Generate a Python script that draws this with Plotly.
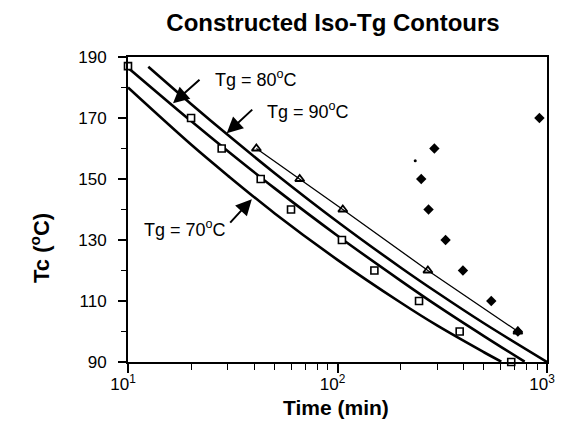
import math
import plotly.graph_objects as go

# ---- data ----
time_sq = [10, 20, 28, 43, 60, 105, 150, 245, 383, 675]
tc_sq = [187, 170, 160, 150, 140, 130, 120, 110, 100, 90]

time_tri = [41, 66, 106, 270, 726]
tc_tri = [160, 150, 140, 120, 100]

time_dia = [920, 290, 251, 272, 328, 397, 542, 726]
tc_dia = [170, 160, 150, 140, 130, 120, 110, 100]

time_dot = [235]
tc_dot = [156]

t70 = [10, 20, 30, 50, 100, 200, 300, 500, 605]
T70 = [180, 161.3, 151.1, 138.8, 123.5, 109.5, 101.9, 93.2, 90.1]

t80 = [10, 20, 30, 50, 100, 200, 300, 500, 782]
T80 = [186.5, 169.0, 159.1, 147.0, 131.4, 116.7, 108.4, 98.5, 90.1]

t90 = [12.5, 20, 30, 50, 100, 200, 300, 500, 1000]
T90 = [186.8, 174.6, 164.4, 152.0, 136.0, 121.0, 112.7, 102.7, 90.0]

x_tickvals = [10, 100, 1000]
x_ticktext = ["10<sup>1</sup>", "10<sup>2</sup>", "10<sup>3</sup>"]
x_minor = [20, 30, 40, 50, 60, 70, 80, 90, 200, 300, 400, 500, 600, 700, 800, 900]
y_tickvals = [90, 110, 130, 150, 170, 190]
y_minor = [100, 120, 140, 160, 180]

FONT = "Liberation Sans, Arial, Helvetica, sans-serif"
BLACK = "#000000"

# the page body adds an 8px margin; keep the figure small enough to avoid scrollbars
W, H = 547, 412

fig = go.Figure()

for tx, ty in [(t70, T70), (t80, T80), (t90, T90)]:
    fig.add_trace(go.Scatter(x=tx, y=ty, mode="lines", line=dict(color=BLACK, width=2.6, shape="spline"),
                             showlegend=False, hoverinfo="skip"))

fig.add_trace(go.Scatter(x=time_dia, y=tc_dia, mode="markers",
                         marker=dict(symbol="diamond", size=8, color=BLACK), showlegend=False, cliponaxis=False))
fig.add_trace(go.Scatter(x=time_tri, y=tc_tri, mode="lines+markers",
                         line=dict(color=BLACK, width=1.3),
                         marker=dict(symbol="triangle-up-open", size=8, color=BLACK, line=dict(width=1.8)),
                         showlegend=False, cliponaxis=False))
fig.add_trace(go.Scatter(x=time_sq, y=tc_sq, mode="markers",
                         marker=dict(symbol="square", size=7, color="white", line=dict(color=BLACK, width=1.6)),
                         showlegend=False, cliponaxis=False))
fig.add_trace(go.Scatter(x=time_dot, y=tc_dot, mode="markers",
                         marker=dict(symbol="circle", size=3, color=BLACK), showlegend=False))

# labels with arrows
labels = [
    ("Tg = 80<sup>o</sup>C", 25.4, 183.1, 16.4, 174.8, 28, -25),
    ("Tg = 90<sup>o</sup>C", 45.0, 172.6, 29.6, 165.0, 27, -25),
    ("Tg = 70<sup>o</sup>C", 11.66, 133.9, 39.0, 143.4, -23, 25),
]
for text, tx, ty, hx, hy, ax, ay in labels:
    fig.add_annotation(x=math.log10(tx), y=ty, text=text, showarrow=False, xanchor="left", yanchor="middle",
                       font=dict(family=FONT, size=18, color=BLACK))
    fig.add_annotation(x=math.log10(hx), y=hy, text="", showarrow=True, ax=ax, ay=ay,
                       arrowhead=2, arrowsize=1.6, arrowwidth=2, arrowcolor=BLACK)

# axis titles
fig.add_annotation(xref="paper", yref="paper", x=0.496, y=-0.15, text="Time (min)", showarrow=False,
                   xanchor="center", yanchor="middle",
                   font=dict(family=FONT, size=21, weight="bold", color=BLACK))
fig.add_annotation(xref="paper", yref="paper", x=-0.21, y=0.374, text="Tc (<sup>o</sup>C)", showarrow=False,
                   xanchor="center", yanchor="middle", textangle=-90,
                   font=dict(family=FONT, size=22, weight="bold", color=BLACK))

fig.update_layout(
    width=W, height=H,
    margin=dict(l=120, r=7.5, t=49, b=58),
    paper_bgcolor="white", plot_bgcolor="white",
    font=dict(family=FONT, color=BLACK),
    title=dict(text="Constructed Iso-Tg Contours", x=325 / W, xanchor="center", y=1 - 15 / H,
               yanchor="middle", xref="container", yref="container",
               font=dict(family=FONT, size=24, weight="bold", color=BLACK)),
)

fig.update_xaxes(
    type="log", range=[1, 3], tickmode="array", tickvals=x_tickvals, ticktext=x_ticktext,
    automargin=False,
    showgrid=False, zeroline=False, showline=True, linecolor=BLACK, linewidth=2, mirror=True,
    ticks="outside", ticklen=9, tickwidth=1.5, tickcolor=BLACK, ticklabeloverflow="allow",
    ticklabelshift=-5, ticklabelstandoff=-3,
    tickfont=dict(family=FONT, size=17, color=BLACK),
    minor=dict(tickmode="array", tickvals=x_minor, ticks="outside", ticklen=6, tickwidth=1.3, tickcolor=BLACK,
               showgrid=False),
)
fig.update_yaxes(
    range=[90, 190], tickmode="array", tickvals=y_tickvals,
    automargin=False,
    showgrid=False, zeroline=False, showline=True, linecolor=BLACK, linewidth=2, mirror=True,
    ticks="outside", ticklen=8, tickwidth=1.5, tickcolor=BLACK, ticklabelstandoff=8,
    tickfont=dict(family=FONT, size=17, color=BLACK),
    minor=dict(tickmode="array", tickvals=y_minor, ticks="outside", ticklen=5, tickwidth=1.3, tickcolor=BLACK,
               showgrid=False),
)

fig.write_html("out.html")
